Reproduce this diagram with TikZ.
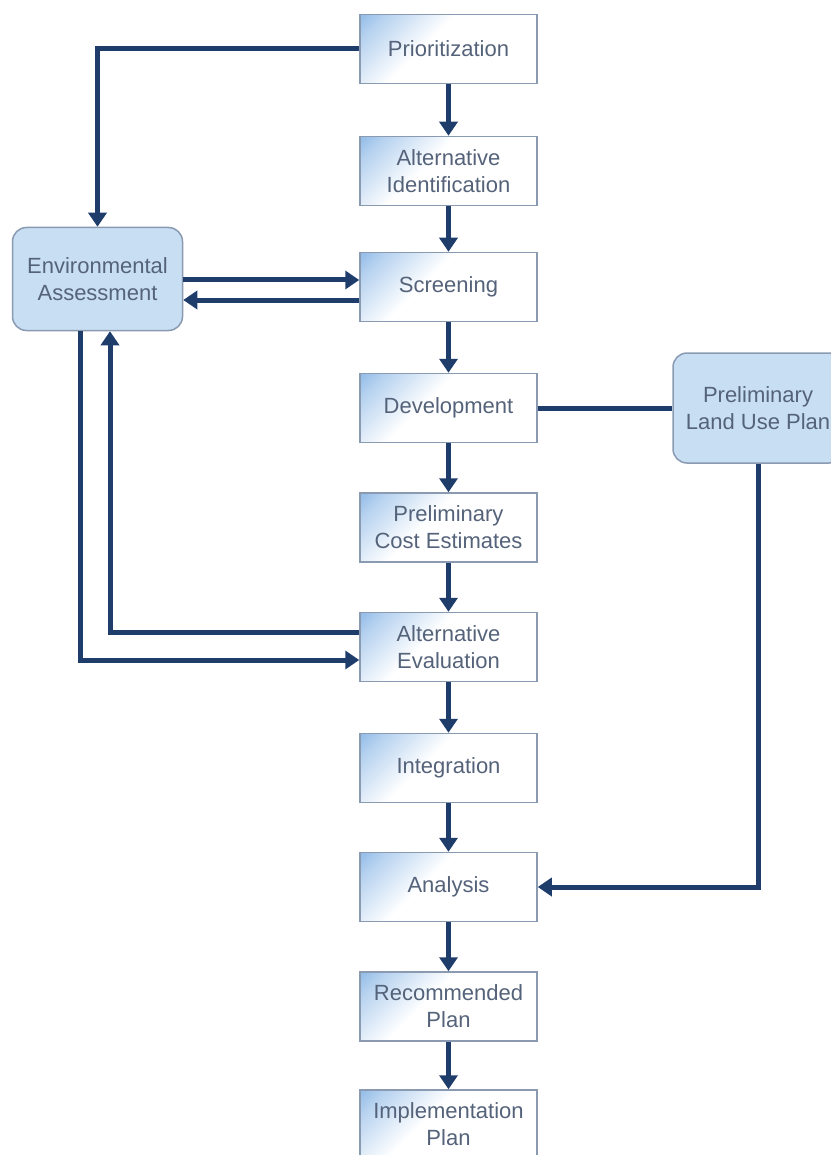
\documentclass[tikz,border=0pt]{standalone}
\usepackage{fontspec}
\setmainfont{Liberation Sans}
\usetikzlibrary{arrows.meta}
\definecolor{cb}{HTML}{4A8FD8}
\definecolor{navy}{HTML}{1F3D6B}
\definecolor{txt}{HTML}{55637A}
\definecolor{bord}{HTML}{8A9AB0}
\definecolor{sidefill}{HTML}{C8DEF3}
\pgfdeclarehorizontalshading{cornerblue}{100bp}{color(0bp)=(cb); color(22bp)=(cb!40!white); color(42bp)=(white); color(100bp)=(white)}
\begin{document}
\begin{tikzpicture}[x=1pt,y=-1pt,
  box/.style={draw=bord, line width=1.5pt, shade, shading=cornerblue, shading angle=-45,
    minimum width=177pt, minimum height=69pt, text=txt, align=center,
    font=\fontsize{22}{27}\selectfont, inner sep=2pt},
  side/.style={draw=bord, line width=1.5pt, fill=sidefill, rounded corners=14pt,
    minimum width=170pt, minimum height=103pt, text=txt, align=center,
    font=\fontsize{22}{27}\selectfont, inner sep=2pt},
  conn/.style={draw=navy, line width=5pt},
  arr/.style={conn, -{Triangle[width=18pt,length=14pt]}}]
\useasboundingbox (0,0) rectangle (830,1155);
\node[box] (p1) at (448.5,49) {Prioritization};
\node[box] (p2) at (448.5,171) {Alternative\\Identification};
\node[box] (p3) at (448.5,287) {Screening};
\node[box] (p4) at (448.5,408) {Development};
\node[box] (p5) at (448.5,527.5) {Preliminary\\Cost Estimates};
\node[box] (p6) at (448.5,647) {Alternative\\Evaluation};
\node[box] (p7) at (448.5,768) {Integration};
\node[box] (p8) at (448.5,887) {Analysis};
\node[box] (p9) at (448.5,1006.5) {Recommended\\Plan};
\node[box] (p10) at (448.5,1124.5) {Implementation\\Plan};
\node[side] (env) at (97.5,279) {Environmental\\Assessment};
\node[side, minimum height=110pt] (lup) at (758,408) {Preliminary\\Land Use Plan};
\coordinate (yA) at (0,280);
\coordinate (yB) at (0,300);
\coordinate (yE) at (0,660);
\coordinate (yF) at (0,632);
\coordinate (xO) at (80,0);
\coordinate (xI) at (110,0);
\foreach \a/\b in {p1/p2,p2/p3,p3/p4,p4/p5,p5/p6,p6/p7,p7/p8,p8/p9,p9/p10}
  \draw[arr] (\a.south) -- (\b.north);
\draw[arr] (p1.west) -| (env.north);
\draw[arr] (env.east |- yA) -- (p3.west |- yA);
\draw[arr] (p3.west |- yB) -- (env.east |- yB);
\draw[arr] (env.south -| xO) |- (p6.west |- yE);
\draw[arr] (p6.west |- yF) -| (env.south -| xI);
\draw[conn] (p4.east) -- (lup.west);
\draw[arr] (lup.south) |- (p8.east);
\end{tikzpicture}
\end{document}
